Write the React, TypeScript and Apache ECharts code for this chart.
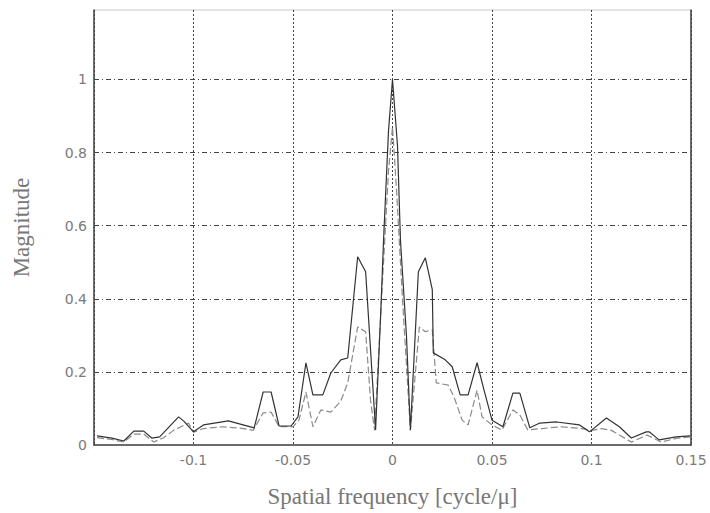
import React, { useEffect, useRef } from "react";
import * as echarts from "echarts";

const freqSolid = [-0.1485, -0.141, -0.135, -0.13, -0.125, -0.121, -0.117, -0.1075, -0.105, -0.1, -0.095, -0.0825, -0.0695, -0.065, -0.061, -0.057, -0.051, -0.0475, -0.0435, -0.04, -0.035, -0.031, -0.026, -0.0225, -0.0175, -0.0135, -0.0085, -0.006, -0.0045, -0.002, 0, 0.0025, 0.004, 0.007, 0.009, 0.013, 0.0165, 0.02, 0.0205, 0.0265, 0.03, 0.034, 0.038, 0.0425, 0.046, 0.05, 0.0555, 0.0605, 0.064, 0.069, 0.074, 0.0825, 0.094, 0.099, 0.1075, 0.114, 0.12, 0.1275, 0.129, 0.134, 0.1425, 0.1495];
const magSolid = [0.025, 0.019, 0.011, 0.038, 0.038, 0.019, 0.022, 0.077, 0.066, 0.036, 0.055, 0.066, 0.047, 0.145, 0.145, 0.052, 0.052, 0.077, 0.225, 0.137, 0.137, 0.197, 0.233, 0.238, 0.515, 0.474, 0.041, 0.35, 0.56, 0.86, 1.0, 0.82, 0.56, 0.3, 0.041, 0.474, 0.512, 0.425, 0.252, 0.233, 0.214, 0.137, 0.137, 0.225, 0.15, 0.068, 0.05, 0.142, 0.142, 0.047, 0.06, 0.063, 0.055, 0.036, 0.074, 0.05, 0.019, 0.036, 0.036, 0.014, 0.022, 0.025];

const freqDashed = [-0.1485, -0.141, -0.135, -0.13, -0.125, -0.12, -0.115, -0.11, -0.1025, -0.1, -0.095, -0.085, -0.075, -0.07, -0.065, -0.061, -0.057, -0.05, -0.047, -0.0435, -0.04, -0.036, -0.031, -0.026, -0.0225, -0.0175, -0.0135, -0.011, -0.009, -0.005, -0.002, 0, 0.002, 0.005, 0.009, 0.0135, 0.0165, 0.02, 0.022, 0.028, 0.031, 0.035, 0.038, 0.0425, 0.045, 0.05, 0.055, 0.0605, 0.064, 0.068, 0.075, 0.085, 0.095, 0.1, 0.105, 0.11, 0.12, 0.128, 0.135, 0.1425, 0.1495];
const magDashed = [0.02, 0.015, 0.008, 0.03, 0.03, 0.008, 0.02, 0.04, 0.06, 0.035, 0.045, 0.05, 0.045, 0.04, 0.088, 0.09, 0.05, 0.05, 0.068, 0.145, 0.05, 0.096, 0.09, 0.12, 0.17, 0.323, 0.31, 0.12, 0.04, 0.45, 0.75, 0.87, 0.7, 0.4, 0.04, 0.323, 0.31, 0.315, 0.17, 0.164, 0.13, 0.068, 0.055, 0.15, 0.077, 0.055, 0.041, 0.096, 0.082, 0.041, 0.045, 0.05, 0.045, 0.04, 0.045, 0.04, 0.008, 0.027, 0.008, 0.018, 0.022];

const xTitle = "Spatial frequency [cycle/\u03bc]";
const yTitle = "Magnitude";

function fmt(v: number): string {
  return String(parseFloat(v.toFixed(3)));
}

export default function App() {
  const ref = useRef<HTMLDivElement>(null);
  useEffect(() => {
    document.body.style.margin = "0";
    const chart = echarts.init(ref.current!, null, { renderer: "svg" });
    const labelStyle = { color: "#7a7a7a", fontFamily: "DejaVu Sans, sans-serif", fontSize: 14 };
    const titleStyle = { color: "#777", fontFamily: "Liberation Serif, Times New Roman, serif", fontSize: 23 };
    chart.setOption({
      animation: false,
      backgroundColor: "#fff",
      grid: {
        left: 94,
        right: 19,
        top: 10,
        bottom: 68,
        show: true,
        borderColor: "#c8c8c8",
        borderWidth: 1,
        backgroundColor: "transparent",
        containLabel: false,
        outerBoundsMode: "none",
      },
      xAxis: {
        type: "value",
        min: -0.15,
        max: 0.15,
        interval: 0.05,
        name: xTitle,
        nameLocation: "middle",
        nameGap: 40,
        nameTextStyle: titleStyle,
        axisLine: { show: true, onZero: false, lineStyle: { color: "#444", width: 1.5 } },
        axisTick: { show: false },
        axisLabel: {
          ...labelStyle,
          margin: 8,
          formatter: (v: number) => (Math.abs(v + 0.15) < 1e-9 ? "" : fmt(v)),
        },
        splitLine: { show: true, lineStyle: { color: "#444", type: [2, 2], width: 1 } },
      },
      yAxis: [
        {
          type: "value",
          min: 0,
          max: 1.19,
          interval: 0.2,
          name: yTitle,
          nameLocation: "middle",
          nameGap: 61,
          nameTextStyle: titleStyle,
          axisLine: { show: true, onZero: false, lineStyle: { color: "#444", width: 1.5 } },
          axisTick: { show: false },
          axisLabel: {
            ...labelStyle,
            margin: 7,
            formatter: (v: number) => {
              const r = Math.round(v / 0.2);
              return Math.abs(v - r * 0.2) < 1e-6 ? fmt(v) : "";
            },
          },
          splitLine: { show: true, showMaxLine: false, showMinLine: false, lineStyle: { color: "#444", type: [5, 3, 1, 3], width: 1 } },
        },
        {
          type: "value",
          position: "right",
          min: 0,
          max: 1.19,
          axisLine: { show: true, onZero: false, lineStyle: { color: "#444", width: 1.5 } },
          axisTick: { show: false },
          axisLabel: { show: false },
          splitLine: { show: false },
        },
      ],
      series: [
        {
          type: "line",
          name: "solid",
          data: freqSolid.map((f, i) => [f, magSolid[i]]),
          showSymbol: false,
          symbol: "none",
          lineStyle: { color: "#333", width: 1.2 },
          z: 3,
        },
        {
          type: "line",
          name: "dashed",
          data: freqDashed.map((f, i) => [f, magDashed[i]]),
          showSymbol: false,
          symbol: "none",
          lineStyle: { color: "#8a8a8a", width: 1.2, type: [7, 3] },
          z: 2,
        },
      ],
    });
    return () => chart.dispose();
  }, []);
  return <div ref={ref} style={{ position: "absolute", left: 0, top: 0, width: 710, height: 513 }} />;
}
